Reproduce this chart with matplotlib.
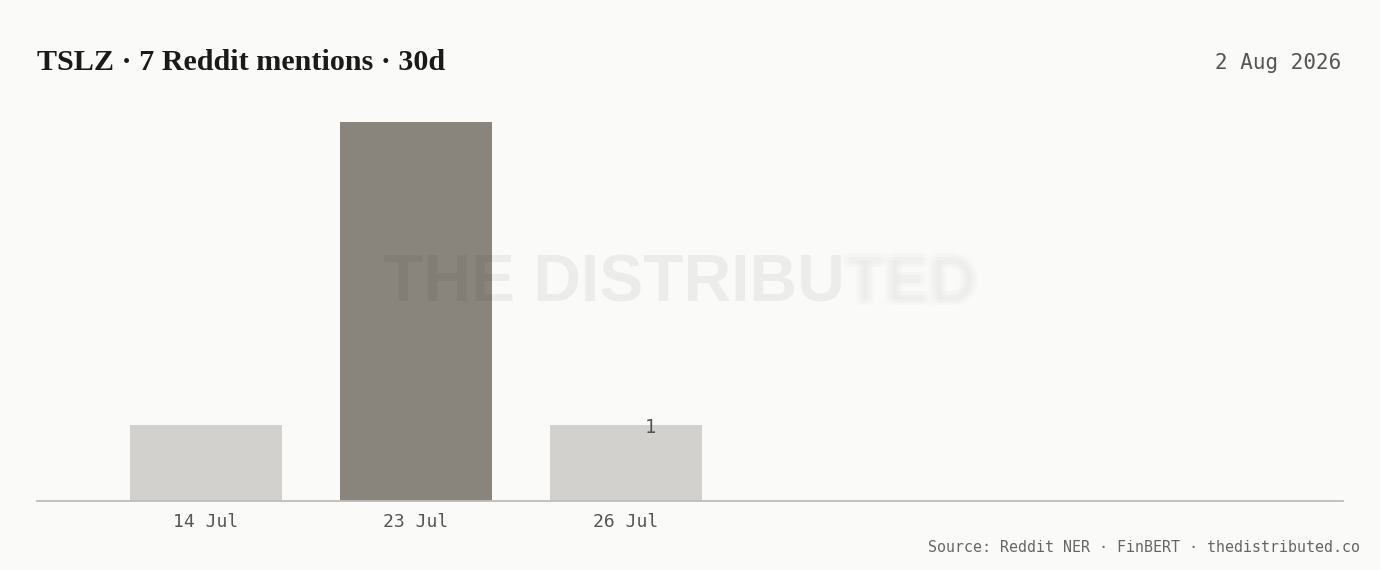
import matplotlib
matplotlib.use("Agg")
import matplotlib.pyplot as plt
import matplotlib.patheffects as pe

categories = ["14 Jul", "23 Jul", "26 Jul"]
mentions = [1, 5, 1]
highlight = [False, True, False]
title = "TSLZ · 7 Reddit mentions · 30d"
date_label = "2 Aug 2026"
source = "Source: Reddit NER · FinBERT · thedistributed.co"
watermark_sharp = "THE DISTRIBU"
watermark_faded = "TED"
annot_index = 2

BG = "#FAFAF8"
W, H = 1380, 570
fig = plt.figure(figsize=(W / 100, H / 100), dpi=100, facecolor=BG)

ax_l, ax_r, ax_t, ax_b = 37, 1343, 84, 501
ax = fig.add_axes([ax_l / W, 1 - ax_b / H, (ax_r - ax_l) / W, (ax_b - ax_t) / H])
ax.set_facecolor(BG)

x = list(range(len(categories)))
colors = ["#8A857C" if h else "#D3D1CD" for h in highlight]
ax.bar(x, mentions, width=0.724, color=colors, zorder=2)
ax.set_xlim(-0.805, 5.414)
ax.set_ylim(0, 5.5)
ax.set_xticks(x)
ax.set_xticklabels(categories, family="DejaVu Sans Mono", fontsize=13, color="#555555")
ax.tick_params(axis="x", length=0, pad=8.5)
ax.set_yticks([])
for s in ["top", "right", "left"]:
    ax.spines[s].set_visible(False)
ax.spines["bottom"].set_color("#BDBDBB")
ax.spines["bottom"].set_linewidth(1.3)
ax.spines["bottom"].set_zorder(3)

ax.annotate(str(mentions[annot_index]), (annot_index, mentions[annot_index]),
            xytext=(17.5, -2), textcoords="offset points",
            family="DejaVu Sans Mono", fontsize=13.5, color="#555555",
            ha="center", va="center", zorder=4)

# watermark: sharp part + blurred/faded tail (single text each, blur via path effects)
wm_y = 1 - 285 / H
t1 = fig.text(383 / W, wm_y, watermark_sharp, family="Liberation Sans", fontweight="bold",
              fontsize=47.5, color="black", alpha=0.055, ha="left", va="center", zorder=10)
renderer = fig.canvas.get_renderer()
bb = t1.get_window_extent(renderer=renderer)
offs = [(dx, dy) for dx in (-3, -1.5, 0, 1.5, 3) for dy in (-2.5, 0, 2.5)]
effects = [pe.SimplePatchShadow(offset=o, shadow_rgbFace="black", alpha=0.045 / len(offs) * 1.5, rho=1)
           for o in offs]
t2 = fig.text(bb.x1 / W, wm_y, watermark_faded, family="Liberation Sans", fontweight="bold",
              fontsize=47.5, color=(0, 0, 0, 0), ha="left", va="center", zorder=10,
              path_effects=effects)

fig.text(37 / W, 1 - 70 / H, title, family="Liberation Serif", fontweight="bold",
         fontsize=21.7, color="#1A1A1A", ha="left", va="baseline")
fig.text(1341 / W, 1 - 63 / H, date_label, family="DejaVu Sans Mono", fontsize=15,
         color="#555555", ha="right", va="center")
fig.text(1360 / W, 1 - 547 / H, source, family="DejaVu Sans Mono", fontsize=10.8,
         color="#666666", ha="right", va="center")

fig.savefig("out.png", dpi=100, facecolor=BG)
